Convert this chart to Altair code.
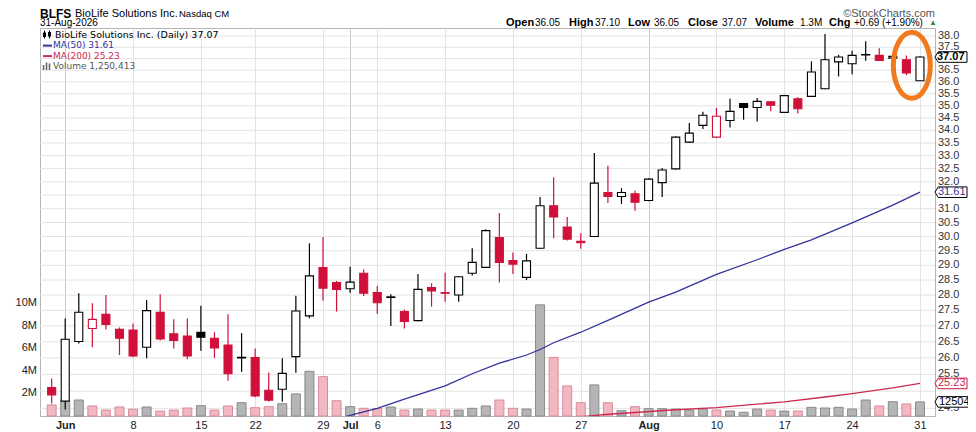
import altair as alt
import pandas as pd
import numpy as np

# ---------------- data ----------------
dates = [
    "2026-05-29",
    "2026-06-01", "2026-06-02", "2026-06-03", "2026-06-04", "2026-06-05",
    "2026-06-08", "2026-06-09", "2026-06-10", "2026-06-11", "2026-06-12",
    "2026-06-15", "2026-06-16", "2026-06-17", "2026-06-18",
    "2026-06-22", "2026-06-23", "2026-06-24", "2026-06-25", "2026-06-26",
    "2026-06-29", "2026-06-30",
    "2026-07-01", "2026-07-02",
    "2026-07-06", "2026-07-07", "2026-07-08", "2026-07-09", "2026-07-10",
    "2026-07-13", "2026-07-14", "2026-07-15", "2026-07-16", "2026-07-17",
    "2026-07-20", "2026-07-21", "2026-07-22", "2026-07-23", "2026-07-24",
    "2026-07-27", "2026-07-28", "2026-07-29", "2026-07-30", "2026-07-31",
    "2026-08-03", "2026-08-04", "2026-08-05", "2026-08-06", "2026-08-07",
    "2026-08-10", "2026-08-11", "2026-08-12", "2026-08-13", "2026-08-14",
    "2026-08-17", "2026-08-18", "2026-08-19", "2026-08-20", "2026-08-21",
    "2026-08-24", "2026-08-25", "2026-08-26", "2026-08-27", "2026-08-28",
    "2026-08-31",
]
opens = [25.11, 24.71, 26.51, 26.92, 27.37, 26.89, 26.87, 26.33, 27.44, 26.75,
         26.68, 26.80, 26.61, 26.40, 26.02, 26.01, 25.03, 25.06, 26.04, 27.32,
         28.92, 28.42, 28.21, 28.73, 28.08, 27.94, 27.46, 27.17, 28.25, 28.08,
         28.00, 28.73, 28.93, 29.96, 29.16, 28.59, 29.59, 31.11, 30.34, 29.83,
         30.00, 31.60, 31.45, 31.55, 31.30, 31.97, 32.49, 33.53, 34.20, 33.73,
         34.40, 35.09, 34.93, 35.16, 34.73, 35.29, 35.39, 35.71, 36.86, 36.78,
         37.18, 37.14, 37.02, 36.95, 36.05]
highs = [25.38, 27.24, 28.06, 27.73, 28.00, 26.95, 27.08, 27.84, 28.03, 27.21,
         27.24, 27.65, 26.80, 27.37, 26.77, 26.29, 25.56, 25.99, 27.98, 29.76,
         29.98, 28.47, 28.95, 28.86, 28.30, 28.03, 27.53, 28.70, 28.39, 28.75,
         28.64, 29.59, 30.26, 30.84, 29.44, 29.39, 31.43, 32.17, 30.70, 30.12,
         33.10, 32.61, 31.76, 31.66, 32.13, 32.52, 33.75, 34.30, 34.75, 34.91,
         35.29, 35.12, 35.32, 35.19, 35.46, 35.35, 36.88, 38.09, 37.17, 37.35,
         37.76, 37.46, 37.14, 37.14, 37.10]
lows = [24.64, 24.47, 26.45, 26.33, 26.89, 26.09, 26.02, 25.99, 26.54, 26.29,
        25.96, 26.22, 26.00, 25.31, 25.58, 24.82, 24.69, 24.69, 25.55, 27.24,
        27.81, 27.46, 28.08, 27.97, 27.38, 27.00, 26.92, 27.15, 27.62, 27.78,
        27.78, 28.65, 28.91, 28.42, 28.70, 28.50, 29.56, 29.94, 29.86, 29.57,
        29.98, 31.21, 31.17, 30.93, 31.27, 31.43, 32.47, 33.50, 34.05, 33.69,
        34.11, 34.43, 34.36, 34.77, 34.70, 34.68, 35.37, 35.69, 36.23, 36.33,
        36.91, 36.90, 37.00, 36.28, 36.05]
closes = [24.89, 26.58, 27.44, 27.21, 27.05, 26.61, 26.06, 27.49, 26.59, 26.54,
          26.06, 26.64, 26.31, 25.52, 26.00, 24.86, 24.74, 25.53, 27.48, 28.64,
          28.23, 28.19, 28.43, 28.06, 27.75, 27.92, 27.14, 28.19, 28.14, 28.06,
          28.61, 29.10, 30.21, 29.10, 29.04, 29.15, 31.11, 30.70, 29.91, 29.78,
          31.95, 31.45, 31.60, 31.24, 32.10, 32.45, 33.73, 33.89, 34.61, 34.57,
          34.77, 34.93, 35.18, 35.02, 35.42, 34.88, 36.42, 36.95, 37.07, 37.14,
          37.16, 36.92, 37.10, 36.38, 37.07]
volumes_m = [0.98, 1.45, 1.42, 0.89, 0.53, 0.80, 0.60, 0.80, 0.44, 0.53,
             0.71, 0.92, 0.53, 0.89, 1.18, 0.74, 0.83, 1.09, 1.96, 3.97,
             3.50, 1.36, 0.83, 0.68, 0.65, 0.80, 0.53, 0.62, 0.53, 0.53,
             0.53, 0.68, 0.89, 1.42, 0.68, 0.62, 9.87, 5.20, 2.67, 1.18,
             2.76, 1.18, 0.47, 0.83, 0.65, 0.65, 0.62, 0.53, 0.62, 0.53,
             0.44, 0.33, 0.62, 0.53, 0.44, 0.44, 0.77, 0.71, 0.77, 0.62,
             1.42, 0.89, 1.27, 1.07, 1.250413]

ma50_idx = [21, 22, 24, 26, 29, 31, 33, 35, 36, 37, 39, 41, 44, 46, 49, 52, 54, 56, 59, 62, 64]
ma50_val = [24.18, 24.30, 24.50, 24.77, 25.16, 25.52, 25.84, 26.09, 26.26, 26.47, 26.80,
            27.18, 27.77, 28.10, 28.69, 29.19, 29.55, 29.88, 30.49, 31.13, 31.61]
ma200_idx = [38, 41, 43, 46, 49, 52, 54, 57, 59, 62, 64]
ma200_val = [24.22, 24.33, 24.38, 24.46, 24.52, 24.62, 24.69, 24.83, 24.93, 25.10, 25.23]

tick_idx = [1, 6, 11, 15, 20, 22, 24, 29, 34, 39, 44, 49, 54, 59, 64]
tick_labels = ["Jun", "8", "15", "22", "29", "Jul", "6", "13", "20", "27",
               "Aug", "10", "17", "24", "31"]
month_idx = [1, 22, 44]
price_ticks = [24.5, 25.0, 25.5, 26.0, 26.5, 27.0, 27.5, 28.0, 28.5, 29.0, 29.5,
               30.0, 30.5, 31.0, 31.5, 32.0, 32.5, 33.0, 33.5, 34.0, 34.5, 35.0,
               35.5, 36.0, 36.5, 37.0, 37.5, 38.0]
vol_ticks = [2, 4, 6, 8, 10]

# ---------------- tables ----------------
df = pd.DataFrame({"date": dates, "open": opens, "high": highs, "low": lows,
                   "close": closes, "vol": volumes_m})
df["idx"] = np.arange(len(df))
prev = df["close"].shift(1).fillna(df["open"])
df["dir"] = np.where(df["close"] < prev, "down", "up")
df["kind"] = df["dir"] + np.where(df["close"] < df["open"], "_filled", "_hollow")

ma50 = pd.DataFrame({"idx": ma50_idx, "ma": ma50_val})
ma200 = pd.DataFrame({"idx": ma200_idx, "ma": ma200_val})

last = df.iloc[-1]
prev_close = df["close"].iloc[-2]
chg = last["close"] - prev_close
pct = chg / prev_close * 100

RED = "#d0103a"
NAVY = "#33339a"
CRIMSON = "#cc2a52"
FONT = "Liberation Sans"
LFONT = "DejaVu Sans"
W, H = 895, 388
P_DOMAIN = [24.28, 38.36]
PX_PER_LN = H / np.log(P_DOMAIN[1] / P_DOMAIN[0])

# right-hand value boxes; price labels hidden behind a box are dropped
box_prices = [ma50_val[-1], ma200_val[-1], last["close"]]
pt = np.array(price_ticks)
hidden = np.zeros(len(pt), dtype=bool)
for bp in box_prices:
    hidden |= np.abs(np.log(pt / bp)) * PX_PER_LN < 8.5
pt_df = pd.DataFrame({"p": price_ticks})
pl_df = pd.DataFrame({"p": pt[~hidden]})
vt_df = pd.DataFrame({"v": vol_ticks})

# ---------------- scales / axes ----------------
month_test = "||".join(f"datum.value=={m}" for m in month_idx)
label_expr = ("[" + ",".join(f"'{l}'" for l in tick_labels) + "][indexof(["
              + ",".join(str(t) for t in tick_idx) + "], datum.value)]")
x_axis = alt.Axis(values=tick_idx, labelExpr=label_expr, grid=True,
                  gridColor={"condition": {"test": month_test, "value": "#c9c9c9"}, "value": "#e3e3e3"},
                  labelFontWeight={"condition": {"test": month_test, "value": "bold"}, "value": "normal"},
                  ticks=False, domain=False, labelFont=FONT, labelFontSize=11,
                  labelColor="#222", labelPadding=3, labelOverlap=False, labelFlush=False, title=None)
x_scale = alt.Scale(domain=[-0.49, 64.74], nice=False, zero=False)
X = alt.X("idx:Q", scale=x_scale, axis=x_axis)

p_scale = alt.Scale(type="log", domain=P_DOMAIN, nice=False)
v_scale = alt.Scale(domain=[0, 34.46], nice=False)

# ---------------- price grid + labels (drawn underneath) ----------------
pgrid = alt.Chart(pt_df).mark_rule(color="#e3e3e3", strokeWidth=1).encode(
    x=alt.value(0), x2=alt.value(W),
    y=alt.Y("p:Q", scale=p_scale, axis=None))
plabels = alt.Chart(pl_df).transform_calculate(lab="format(datum.p, '.1f')").mark_text(
    align="left", baseline="middle", font=FONT, fontSize=11, color="#333"
).encode(x=alt.value(W + 3), y=alt.Y("p:Q", scale=p_scale, axis=None), text="lab:N")
grid_layer = alt.layer(pgrid, plabels)

# ---------------- volume layer ----------------
base = alt.Chart(df)
vol_bars = base.mark_bar(size=9, strokeWidth=1).encode(
    x=X,
    y=alt.Y("vol:Q", scale=v_scale, axis=None),
    fill=alt.Fill("dir:N", scale=alt.Scale(domain=["up", "down"], range=["#b5b5b5", "#f1b8c1"]), legend=None),
    stroke=alt.Stroke("dir:N", scale=alt.Scale(domain=["up", "down"], range=["#8a8a8a", "#d98c9b"]), legend=None),
)
vlabels = alt.Chart(vt_df).transform_calculate(lab="datum.v + 'M'").mark_text(
    align="right", baseline="middle", font=FONT, fontSize=11, color="#222"
).encode(x=alt.value(-3), y=alt.Y("v:Q", scale=v_scale, axis=None), text="lab:N")
vol_box_df = pd.DataFrame({"vol": [last["vol"]], "label": [f"{int(round(last['vol'] * 1e6))}"]})
vol_box = alt.Chart(vol_box_df).mark_point(
    shape="M -1 0 L -0.88 -0.22 L 1 -0.22 L 1 0.22 L -0.88 0.22 Z",
    size=2304, filled=True, fill="white", stroke="#000", strokeWidth=1, opacity=1
).encode(x=alt.value(W + 24), y=alt.Y("vol:Q", scale=v_scale, axis=None))
vol_box_txt = alt.Chart(vol_box_df).mark_text(
    align="left", baseline="middle", font=FONT, fontSize=11, color="#000"
).encode(x=alt.value(W + 4), y=alt.Y("vol:Q", scale=v_scale, axis=None), text="label:N")
vol_layer = alt.layer(vol_bars, vlabels, vol_box, vol_box_txt)

# ---------------- price layer ----------------
stroke_scale = alt.Scale(domain=["up", "down"], range=["#000000", RED])
wicks = base.mark_rule(strokeWidth=1.2).encode(
    x=X,
    y=alt.Y("low:Q", scale=p_scale, axis=None),
    y2="high:Q",
    stroke=alt.Stroke("dir:N", scale=stroke_scale, legend=None),
)
bodies = base.mark_bar(size=8, strokeWidth=1.1).encode(
    x=X,
    y=alt.Y("open:Q", scale=p_scale, axis=None),
    y2="close:Q",
    stroke=alt.Stroke("dir:N", scale=stroke_scale, legend=None),
    fill=alt.Fill("kind:N", scale=alt.Scale(
        domain=["up_hollow", "up_filled", "down_hollow", "down_filled"],
        range=["#ffffff", "#000000", "#ffffff", RED]), legend=None),
)
ma50_line = alt.Chart(ma50).mark_line(clip=True, strokeWidth=1.3, color=NAVY).encode(
    x=X, y=alt.Y("ma:Q", scale=p_scale, axis=None))
ma200_line = alt.Chart(ma200).mark_line(clip=True, strokeWidth=1.3, color=CRIMSON).encode(
    x=X, y=alt.Y("ma:Q", scale=p_scale, axis=None))

box_path = "M -1 0 L -0.8 -0.33 L 1 -0.33 L 1 0.33 L -0.8 0.33 Z"
boxes_df = pd.DataFrame({
    "price": box_prices,
    "label": [f"{v:.2f}" for v in box_prices],
    "which": ["ma50", "ma200", "close"],
})
which_scale = alt.Scale(domain=["ma50", "ma200", "close"], range=[NAVY, CRIMSON, "#000000"])
boxes = alt.Chart(boxes_df).mark_point(
    shape=box_path, size=1024, filled=True, fill="white", strokeWidth=1, opacity=1
).encode(
    x=alt.value(W + 16),
    y=alt.Y("price:Q", scale=p_scale, axis=None),
    stroke=alt.Stroke("which:N", scale=which_scale, legend=None),
)
boxes_txt_ma = alt.Chart(boxes_df).transform_filter("datum.which != 'close'").mark_text(
    align="left", baseline="middle", font=FONT, fontSize=11
).encode(
    x=alt.value(W + 3),
    y=alt.Y("price:Q", scale=p_scale, axis=None),
    text="label:N",
    color=alt.Color("which:N", scale=which_scale, legend=None),
)
boxes_txt_close = alt.Chart(boxes_df).transform_filter("datum.which == 'close'").mark_text(
    align="left", baseline="middle", font=FONT, fontSize=11, fontWeight="bold", color="#000"
).encode(
    x=alt.value(W + 2),
    y=alt.Y("price:Q", scale=p_scale, axis=None),
    text="label:N",
)

ring_df = pd.DataFrame({"idx": [63.4], "price": [36.71]})
ring = alt.Chart(ring_df).mark_point(
    shape="M 0 -1 A 0.56 1 0 1 1 0 1 A 0.56 1 0 1 1 0 -1 Z",
    size=4356, filled=False, stroke="#f27a1e", strokeWidth=5, opacity=1
).encode(x=X, y=alt.Y("price:Q", scale=p_scale, axis=None))

price_layer = alt.layer(ma200_line, ma50_line, wicks, bodies, boxes, boxes_txt_ma,
                        boxes_txt_close, ring)

# ---------------- texts ----------------
one = pd.DataFrame({"k": [0]})


def txt(s, x, y, size=11, weight="normal", color="#000", align="left", font=FONT):
    return alt.Chart(one).mark_text(
        text=s, fontSize=size, fontWeight=weight, color=color, align=align,
        baseline="middle", font=font
    ).encode(x=alt.value(x), y=alt.value(y))


def rule(x1, x2, y1, y2, color, width):
    return alt.Chart(one).mark_rule(color=color, strokeWidth=width).encode(
        x=alt.value(x1), x2=alt.value(x2), y=alt.value(y1), y2=alt.value(y2))


hy1, hy2 = -14.2, -4.6
texts = [
    txt("BLFS", 0, hy1, 12, "bold"),
    txt("BioLife Solutions Inc.", 35, hy1, 11),
    txt("Nasdaq CM", 139, hy1 + 0.5, 9.5),
    txt("31-Aug-2026", 0, hy2, 10),
    txt("\u00a9StockCharts.com", W, hy1, 11, color="#555", align="right"),
    txt("Open", 466, hy2, 11, "bold"),
    txt(f"{last['open']:.2f}", 495, hy2, 10),
    txt("High", 529, hy2, 11, "bold"),
    txt(f"{last['high']:.2f}", 555, hy2, 10),
    txt("Low", 588, hy2, 11, "bold"),
    txt(f"{last['low']:.2f}", 614, hy2, 10),
    txt("Close", 648, hy2, 11, "bold"),
    txt(f"{last['close']:.2f}", 682, hy2, 10),
    txt("Volume", 715, hy2, 11, "bold"),
    txt(f"{last['vol']:.1f}M", 760, hy2, 10),
    txt("Chg", 789, hy2, 11, "bold"),
    txt(f"{chg:+.2f} ({pct:+.2f}%)", 814, hy2, 10),
    txt("\u25b2", 889, hy2, 8, color="#2e8b3e"),
    # legend
    txt(f"BioLife Solutions Inc. (Daily) {last['close']:.2f}", 15, 6.6, 9.5, font=LFONT),
    txt(f"MA(50) {ma50_val[-1]:.2f}", 13, 17.4, 9, color=NAVY, font=LFONT),
    txt(f"MA(200) {ma200_val[-1]:.2f}", 13, 27.9, 9, color=CRIMSON, font=LFONT),
    txt(f"Volume {int(round(last['vol'] * 1e6)):,}", 13, 38.4, 9, color="#555", font=LFONT),
]
icons = [
    # candle icon
    rule(4.5, 4.5, 2.5, 10.5, "#000", 1), rule(4.5, 4.5, 4.5, 9, "#000", 3),
    rule(9.5, 9.5, 2.5, 10.5, "#000", 1), rule(9.5, 9.5, 4, 8.5, "#000", 3),
    # MA dashes
    rule(3, 12, 17.6, 17.6, NAVY, 2),
    rule(3, 12, 28.1, 28.1, CRIMSON, 2),
    # volume icon
    rule(3.5, 3.5, 37, 42, "#666", 1.6), rule(6.5, 6.5, 34.5, 42, "#666", 1.6),
    rule(9.5, 9.5, 35.5, 42, "#666", 1.6),
]

chart = alt.layer(grid_layer, vol_layer, price_layer, *icons, *texts).resolve_scale(
    y="independent", fill="independent", stroke="independent", color="independent"
).properties(
    width=W, height=H,
    padding={"left": 32, "top": 20, "right": 33, "bottom": 16},
    autosize=alt.AutoSizeParams(type="none"),
    background="white",
).configure_view(stroke="#b4b4b4", strokeWidth=1)

chart.save("out.html", embed_options={"renderer": "svg", "actions": False})
